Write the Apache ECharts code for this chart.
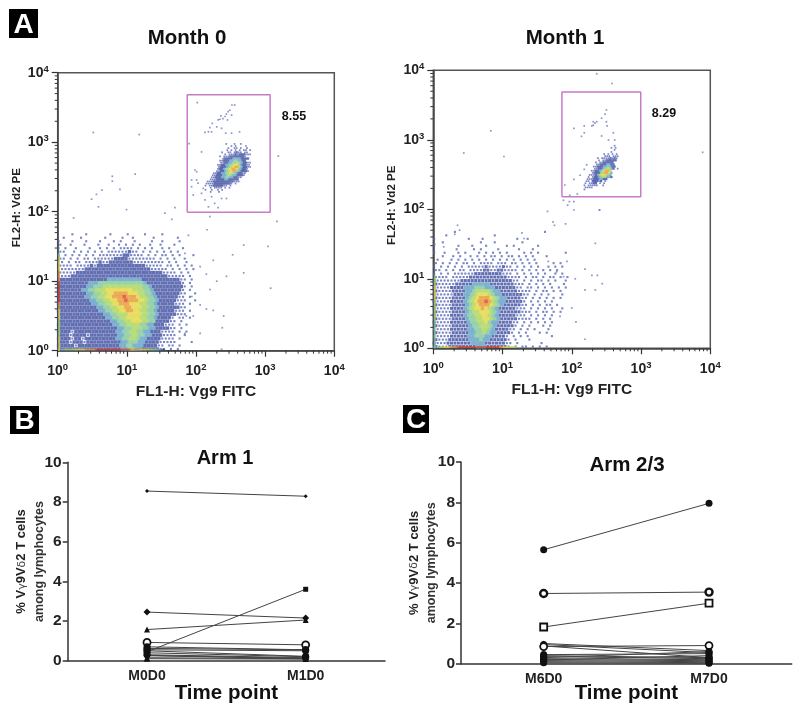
<!DOCTYPE html>
<html><head><meta charset="utf-8">
<style>html,body{margin:0;padding:0;background:#fff}#c{width:800px;height:713px;filter:blur(0.4px)}</style>
<script src="https://cdn.jsdelivr.net/npm/echarts@6/dist/echarts.min.js"></script>
</head><body><div id="c"></div>
<script>
// ---------- Flow plots: density, level 0-8 per cell, top row first.
var month0Bulk = [
"....1...1......1....1....1....1.........",
".1....1......1....1..1.....1......1.....",
"1...1...1...1...1.1...1....1..1....1....",
"1..1...1...1..1..1.1.1.1..1..1...1......",
"1.1..1...1..1.1.1.1111.1.1.1..1.1...1...",
"11..1.1.1.1.1.111111211.1.1.1.1.1.1.....",
"1.1.1.1.1.1.1111111221111.1.1.11.1.1...1",
"11.1.1.11.111111222211111111.1.1.1..1...",
"11.1.11.11112112222222111111111.1.1..1..",
"1111.1111212222222222222211111.11.1.1.1.",
"11111111222222222222222222211111.1.1.1.1",
"1111122222222222222222222222221111.1.1..",
"1111222222222222222222222222222211111.1.",
"2222222222222233333333332222222222211.1.",
"2222222223334444444444444322222222221.1.",
"2222222233444555555555554432222222221.1.",
"2222222334455566666666555443222222221.1.",
"2222222233445566777766655443222222211..1",
"2222222233445566777877765544322222211.1.",
"2222222223344556677877766544322222111..1",
"2222222222334455667776665544322222111.1.",
"2222222222233445566776665544322222211...",
"2222222222223344556677665544322222111.1.",
"2222222222222334455566665544322222111...",
"2222222222222233445566665544322221.11.1.",
"2222222222222223344556665544222211.1....",
"2222222222222222334455554433222111.1.1..",
"2222222222222222233445554433222211.1....",
"2222122222222222233445544332221111.1.1..",
"2221222212222222233445544332221111..1...",
"2222122122222222233445543322221111.1....",
"2221222122222222223344433222211111....1.",
"2222212222222222223344333222211.11.1....",
"2222222222222222223344332222211.1.1....."
];
var month1Bulk = [
"......1.........................1.......",
"...1.............1......................",
"1.........1...1.........1..1............",
"..1..........1...1.......1..............",
"1......1...1...1.....1.1......1.........",
"......1....1.1....1.....1...1...........",
"1..1...1.1...1.1.1.1.1....1.1.1.......1.",
"..1..1.1..1.1.1.11.1.11.1.1.1...1.......",
".1...1.1.1.1.1.1.1.1.1.1.1.1.1..........",
"1.1.1.1.11.1.1111.111.11.1.1.1....1.1...",
"1.1.1.1.1.1111121111211.1.1.1.1..1.1.1..",
"11.1.1.11.11112211221111.1.1.1.1.1.1....",
"1.1.1.11111122222222111.1.1.1.1.1..1.1..",
"1111.11111222222222221111.1.11.1.11.1.1.",
"2111111122222222222222211.1.1.11.1.1..1.",
"21111122222333332222222111.1.1.1.1...1..",
"21111222233344433322222211.11.1.1.1.1.1.",
"2111122223345555433222221111.1.11.1.1...",
"2111112223345666543322222211.1.1.1...1..",
"211112222345677765433222211.1.1.1.1.1...",
"211112222345677875433222221.1.1.1.1.....",
"211112222345677765432222211.1.1.11.1....",
"211112222345667654322222111.1.1.1.1..1..",
"2111122223455666543222222111.1.11.1.1...",
"211112222344556654322222111.1.1.1.1.....",
"2111122223445566543222221111.1.1.1......",
"2111122222344556433222211.1.1.1.1.1.....",
"211112222234455543222221.1.1...1.1......",
"111112222233445543222211.1.1.1...1......",
"21111222223344543322221.1.1...1.1.......",
"1111122222334443322221.1.1.1......1.....",
"2111222222333433222221.1...1............",
"21112222222333322222211.1......1........",
"2111222222223332222221.1.11.1.1.1......."
];
var month0Gate = [
"..........1...1..1.....",
"............1.1....1...",
"...........1..11.1..1..",
"..........1.1.1.1.11.1.",
"........1..11.1211.11..",
".........1.11121222111.",
".......1.11122222221...",
"........1222233332222..",
".......1122233443322...",
".......112233445432211.",
"......1122334566532211.",
"......1222345677532211.",
"......122345677643221..",
".....1122345677432221..",
"....1122334565432211...",
"...1122233454332221....",
"...112223344332211.....",
"..11122223322222.......",
".1112222222222111......",
"1111222222221.1........",
"1.112222211.1..........",
"..1.1111.1.1...........",
"1..1..1.1..............",
"..1...1................"
];
var month1Gate = [
"................1..",
"..............1.1..",
"................1..",
"..............1....",
"...........1.1.1.1.",
"...........111.111.",
"........1.11112121.",
"........1.1122222..",
".......1.1122222...",
".......112223322...",
"......11222334322..",
"......1122345532.1.",
".....1122346775....",
".....1222457763....",
"....11123566543....",
"...1.1223455332....",
"...1112223322......",
"..11.22212.1.......",
"..1.1122.1.1.......",
".1.11111..1........",
"..1111.............",
".1................."
];
// bottom edge and left edge pile-ups (levels along the axes)
var month0BottomEdge = "3455566677788888888887776655432";
var month0LeftEdge   = "6666555556667788888877766654";
var month1BottomEdge = "345667788888888888876655";
var month1LeftEdge   = "444444445555556666554";
// single events, log10 FL1 / log10 FL2
var month0Sparse = [[2.13,3.14],[2.18,3.15],[2.225,3.15],[2.235,3.27],[2.30,3.22],[2.32,3.32],[2.345,3.33],[2.36,3.38],[2.39,3.34],[2.42,3.37],[2.44,3.405],[2.465,3.44],[2.455,3.32],[2.49,3.46],[2.56,3.535],[2.52,3.535],[2.515,3.39],[2.02,3.57],[2.37,3.20],[2.20,3.21],[2.43,3.13],[2.515,3.13],[2.63,3.15],[1.9,2.98],[2.08,2.86],[1.985,2.60],[2.01,2.575],[1.936,2.456],[2.01,2.456],[1.96,2.24],[2.08,2.264],[2.13,2.17],[2.18,2.07],[2.27,2.12],[2.37,2.19],[2.03,2.41],[2.105,2.336],[2.225,2.216],[1.936,2.36],[2.44,2.19],[2.32,2.06],[0.515,3.14],[1.18,3.11],[3.19,2.80],[0.79,2.51],[0.79,2.44],[1.12,2.54],[0.90,2.32],[0.64,2.31],[0.49,2.18],[0.59,2.07],[0.23,1.91],[0.995,2.03],[0.56,2.25],[1.55,1.98],[1.695,2.06],[2.2,1.93],[2.16,1.74],[3.17,1.86],[1.65,1.89],[1.89,1.66],[2.69,1.52],[3.04,1.5],[2.53,1.38],[1.84,1.4],[3.08,0.9],[2.69,1.12],[2.44,1.07],[2.15,1.1],[2.25,1.3],[2.06,1.21],[2.3,1.0],[2.2,0.88],[2.15,0.6],[2.25,0.58],[2.4,0.5],[2.38,0.33],[2.06,0.25],[2.37,0.02],[1.94,0.78],[1.96,0.5],[1.86,0.5],[1.84,0.25],[2.06,0.66]];
var month1Sparse = [[2.31,3.26],[2.335,3.24],[2.36,3.26],[2.31,3.21],[2.29,3.2],[2.43,3.31],[2.48,3.37],[2.5,3.43],[2.5,3.26],[2.51,3.2],[2.03,3.165],[2.18,3.2],[2.18,3.1],[2.14,3.05],[2.43,3.055],[2.6,3.1],[2.53,2.997],[2.62,2.997],[1.9,2.35],[2.03,2.43],[2.12,2.49],[2.18,2.575],[2.215,2.64],[1.97,2.2],[2.08,2.22],[1.88,2.13],[1.965,2.11],[2.03,2.11],[1.94,2.06],[2.03,1.99],[2.4,1.99],[2.36,3.95],[2.58,3.81],[0.83,3.13],[0.44,2.81],[1.02,2.76],[3.89,2.82],[2.4,1.99],[1.65,1.97],[1.73,1.82],[1.75,1.77],[1.91,1.79],[0.35,1.77],[0.38,1.7],[0.31,1.64],[1.28,1.66],[1.31,1.58],[2.34,1.51],[0.02,1.5],[0.15,1.46],[1.66,1.25],[1.78,1.1],[1.88,1.03],[2.05,1.0],[2.29,1.05],[2.37,1.05],[2.19,1.14],[2.44,0.93],[2.19,0.84],[2.34,0.84],[2.0,0.58],[1.83,0.46],[2.06,0.38],[2.19,0.13],[1.93,1.25]];
var month0GateBox = [[74.6,98],[1180,98],[1180,4800],[74.6,4800],[74.6,98]];
var month1GateBox = [[72,152],[990,152],[990,4875],[72,4875],[72,152]];
var logMinorTicks = [2,3,4,5,6,7,8,9,20,30,40,50,60,70,80,90,200,300,400,500,600,700,800,900,2000,3000,4000,5000,6000,7000,8000,9000];

// ---------- Paired plots
var arm1Categories = ["M0D0","M1D0"];
var arm1Before = [8.55,2.45,1.57,0.45,0.92,0.70,0.62,0.55,0.50,0.40,0.30,0.27,0.25,0.15,0.10];
var arm1After  = [8.29,2.15,2.05,3.60,0.80,0.55,0.55,0.50,0.22,0.20,0.15,0.12,0.10,0.10,0.08];
var arm1Marks  = ["star","diamond","triangle","rect","open","circle","circle","circle","circle","circle","circle","diamond","diamond","triangle","triangle"];
var arm23Categories = ["M6D0","M7D0"];
var arm23Before = [5.65,3.48,1.82,1.00,0.95,0.88,0.85,0.45,0.40,0.35,0.30,0.25,0.20,0.18,0.15,0.10,0.05];
var arm23After  = [7.95,3.55,3.00,0.65,0.55,0.30,0.90,0.50,0.30,0.25,0.60,0.20,0.15,0.40,0.10,0.05,0.02];
var arm23Marks  = ["circle","openThick","square","triangle","circle","circle","open","circle","circle","circle","circle","circle","circle","circle","circle","circle","circle"];

// ---------- decode helpers
var levelColor = [null,"#5767b3","#3b4b9f","#5f9fc6","#80c796","#a9d457","#e2d63c","#e9952f","#d8401f"];
function decodeMap(rows, logX0, logYTop, step){
  var out=[];
  rows.forEach(function(r,i){
    var shift=(i%2)?0.5:0;   // brick layout of the reading grid
    for(var j=0;j<r.length;j++){
      var l=+r[j]; if(!l) continue;
      out.push([Math.pow(10,logX0+(j+0.25+shift)*step),Math.pow(10,logYTop-(i+0.5)*step),l]);
    }
  });
  return out;
}
function bottomEdge(s){var o=[];for(var j=0;j<s.length;j++)o.push([Math.pow(10,(j+0.5)*0.05),1.04,+s[j]]);return o;}
function leftEdge(s){var o=[];for(var i=0;i<s.length;i++)o.push([1.05,Math.pow(10,(i+0.5)*0.05),+s[i]]);return o;}
function sparse(a){return a.map(function(p){return [Math.pow(10,p[0]),Math.pow(10,p[1])];});}

var flowAxis = function(gi,name,pos,gap){return {
  type:"log",logBase:10,min:1,max:10000,gridIndex:gi,name:name,nameLocation:"middle",nameGap:gap,nameMoveOverlap:false,
  nameTextStyle:pos==="x"?{fontFamily:"Liberation Sans",fontWeight:"bold",fontSize:15.5,color:"#222"}:{fontFamily:"Liberation Sans",fontWeight:"bold",fontSize:11.5,color:"#222",padding:[0,0,0,8]},
  axisLine:{show:true,onZero:false,lineStyle:{color:"#444",width:1.5}},
  axisTick:{show:true,inside:false,length:6,lineStyle:{color:"#333",width:1.2}},
  splitLine:{show:false},minorTick:{show:false},minorSplitLine:{show:false},
  axisLabel:{margin:pos==="x"?12:9,hideOverlap:false,showMinLabel:true,showMaxLabel:true,
    formatter:function(v){return "{b|10}{e|"+Math.round(Math.log(v)/Math.LN10)+"}";},
    rich:{b:{fontFamily:"Liberation Sans",fontWeight:"bold",fontSize:14,color:"#222"},
          e:{fontFamily:"Liberation Sans",fontWeight:"bold",fontSize:9.5,color:"#222",verticalAlign:"top",padding:[0,0,7,0]}}}
};};
var pairY = function(gi,gap){return {
  type:"value",gridIndex:gi,min:0,max:10,interval:2,
  name:"{a|% V}{g|\u03b3}{a|9V}{g|\u03b4}{a|2 T cells}\n{c|among lymphocytes}",nameLocation:"middle",nameRotate:90,nameGap:gap,nameMoveOverlap:false,
  nameTextStyle:{rich:{a:{fontFamily:"Liberation Sans",fontWeight:"bold",fontSize:13,color:"#222",lineHeight:18},
    g:{fontFamily:"DejaVu Sans",fontSize:11,color:"#444",lineHeight:18},
    c:{fontFamily:"Liberation Sans",fontWeight:"bold",fontSize:12.5,color:"#333",lineHeight:18}}},
  axisLine:{show:true,lineStyle:{color:"#333",width:1.5}},axisTick:{show:true,length:5,lineStyle:{color:"#333",width:1.5}},
  splitLine:{show:false},
  axisLabel:{margin:6,fontFamily:"Liberation Sans",fontWeight:"bold",fontSize:15.5,color:"#222"}
};};
var pairX = function(gi,cats,gap){return {
  type:"category",gridIndex:gi,data:cats,boundaryGap:true,
  name:"Time point",nameLocation:"middle",nameGap:gap,nameMoveOverlap:false,
  nameTextStyle:{fontFamily:"Liberation Sans",fontWeight:"bold",fontSize:20.5,color:"#111"},
  axisLine:{show:true,onZero:true,lineStyle:{color:"#333",width:1.5}},axisTick:{show:false},
  axisLabel:{margin:8,fontFamily:"Liberation Sans",fontWeight:"bold",fontSize:14,color:"#222"}
};};

function flowSeries(gi,bulk,gate,gateX0,gateYTop,gateStep,edgeB,edgeL,sp,box,blueSize){
  var col=function(p){return levelColor[p.value[2]];};
  return [
   {type:"scatter",xAxisIndex:gi,yAxisIndex:gi,symbol:"rect",silent:true,animation:false,
    data:decodeMap(bulk,0,1.7,0.05),
    symbolSize:function(v){return v[2]===1?2.1:v[2]===2?blueSize:3.7;},itemStyle:{color:col}},
   {type:"scatter",xAxisIndex:gi,yAxisIndex:gi,symbol:"rect",silent:true,animation:false,
    data:decodeMap(gate,gateX0,gateYTop,gateStep),
    symbolSize:function(v){return v[2]===1?1.7:2.3;},itemStyle:{color:col}},
   {type:"scatter",xAxisIndex:gi,yAxisIndex:gi,symbol:"rect",silent:true,animation:false,z:3,
    data:bottomEdge(edgeB),symbolSize:[3.7,1.7],itemStyle:{color:col}},
   {type:"scatter",xAxisIndex:gi,yAxisIndex:gi,symbol:"rect",silent:true,animation:false,z:3,
    data:leftEdge(edgeL),symbolSize:[1.8,3.7],itemStyle:{color:col}},
   {type:"scatter",xAxisIndex:gi,yAxisIndex:gi,symbol:"rect",silent:true,animation:false,
    data:sparse(sp),symbolSize:1.7,itemStyle:{color:"#6f7cc0"}},
   {type:"line",xAxisIndex:gi,yAxisIndex:gi,data:box,showSymbol:false,symbol:"none",silent:true,animation:false,clip:false,
    lineStyle:{color:"#c77cc6",width:1.5},z:4},
   {type:"custom",xAxisIndex:gi,yAxisIndex:gi,silent:true,animation:false,clip:false,
    data:logMinorTicks.map(function(v){return [v,1];}),
    renderItem:function(p,api){var c=api.coord([api.value(0),api.value(1)]);
      return {type:"line",shape:{x1:c[0],y1:c[1],x2:c[0],y2:c[1]+3},style:{stroke:"#333",lineWidth:1}};}},
   {type:"custom",xAxisIndex:gi,yAxisIndex:gi,silent:true,animation:false,clip:false,
    data:logMinorTicks.map(function(v){return [1,v];}),
    renderItem:function(p,api){var c=api.coord([api.value(0),api.value(1)]);
      return {type:"line",shape:{x1:c[0],y1:c[1],x2:c[0]-3,y2:c[1]},style:{stroke:"#333",lineWidth:1}};}}
  ];
}
function markStyle(m){
  if(m==="open") return {symbol:"circle",symbolSize:7,itemStyle:{color:"#fff",borderColor:"#111",borderWidth:1.8}};
  if(m==="openThick") return {symbol:"circle",symbolSize:7,itemStyle:{color:"#fff",borderColor:"#111",borderWidth:2.4}};
  if(m==="square") return {symbol:"rect",symbolSize:7,itemStyle:{color:"#fff",borderColor:"#111",borderWidth:1.8}};
  if(m==="rect") return {symbol:"rect",symbolSize:5,itemStyle:{color:"#111"}};
  if(m==="star") return {symbol:"diamond",symbolSize:4,itemStyle:{color:"#111"}};
  if(m==="triangle") return {symbol:"triangle",symbolSize:6,itemStyle:{color:"#111"}};
  if(m==="diamond") return {symbol:"diamond",symbolSize:7,itemStyle:{color:"#111"}};
  return {symbol:"circle",symbolSize:7,itemStyle:{color:"#111"}};
}
function pairSeries(gi,a,b,marks){
  return a.map(function(v,i){
    var s=markStyle(marks[i]);
    return {type:"line",xAxisIndex:gi,yAxisIndex:gi,data:[v,b[i]],symbol:s.symbol,symbolSize:s.symbolSize,showSymbol:true,
      itemStyle:s.itemStyle,lineStyle:{color:"#444",width:1},animation:false,silent:true,clip:false};
  });
}
function tt(text,x,y,size,opt){return Object.assign({text:text,left:x,top:y,textAlign:"center",textVerticalAlign:"middle",padding:0,
  textStyle:{fontFamily:"Liberation Sans",fontWeight:"bold",fontSize:size,color:"#111"}},opt||{});}
function badge(letter,x,y,w,h){return {type:"group",left:x,top:y,silent:true,children:[
  {type:"rect",shape:{x:0,y:0,width:w,height:h},style:{fill:"#000"}},
  {type:"text",x:w/2,y:h/2+1.5,style:{text:letter,fill:"#fff",font:"bold 28px 'Liberation Sans'",textAlign:"center",textVerticalAlign:"middle"}}
]};}

var series=[].concat(
  flowSeries(0,month0Bulk,month0Gate,2.13,2.99,0.03,month0BottomEdge,month0LeftEdge,month0Sparse,month0GateBox,3.4),
  flowSeries(1,month1Bulk,month1Gate,2.13,2.93,0.03,month1BottomEdge,month1LeftEdge,month1Sparse,month1GateBox,3.0),
  pairSeries(2,arm1Before,arm1After,arm1Marks),
  pairSeries(3,arm23Before,arm23After,arm23Marks)
);
var chart=echarts.init(document.getElementById("c"),null,{renderer:"canvas"});
chart.setOption({
  backgroundColor:"#fff",animation:false,
  grid:[
    {left:57.7,top:72.7,width:276.6,height:278,show:true,borderColor:"#555",borderWidth:1.5,backgroundColor:"transparent",outerBoundsMode:"none"},
    {left:433.3,top:70.3,width:277,height:278,show:true,borderColor:"#555",borderWidth:1.5,backgroundColor:"transparent",outerBoundsMode:"none"},
    {left:67.7,top:462.3,width:317.3,height:198.4,outerBoundsMode:"none"},
    {left:461,top:462,width:330.7,height:201.7,outerBoundsMode:"none"}
  ],
  title:[
    tt("Month 0",187,38,20.5),tt("Month 1",565,38,20.5),
    tt("Arm 1",225,458,20),tt("Arm 2/3",627,465,20.5),
    tt("8.55",294,117,12.5),tt("8.29",664,114,12.5)
  ],
  graphic:[badge("A",9,9,29,29),badge("B",10,406,29,28),badge("C",403,405,26,28)],
  xAxis:[flowAxis(0,"FL1-H: Vg9 FITC","x",33),flowAxis(1,"FL1-H: Vg9 FITC","x",33),pairX(2,arm1Categories,22),pairX(3,arm23Categories,19)],
  yAxis:[flowAxis(0,"FL2-H: Vd2 PE","y",35),flowAxis(1,"FL2-H: Vd2 PE","y",35),pairY(2,19),pairY(3,20)],
  series:series
});
</script></body></html>
